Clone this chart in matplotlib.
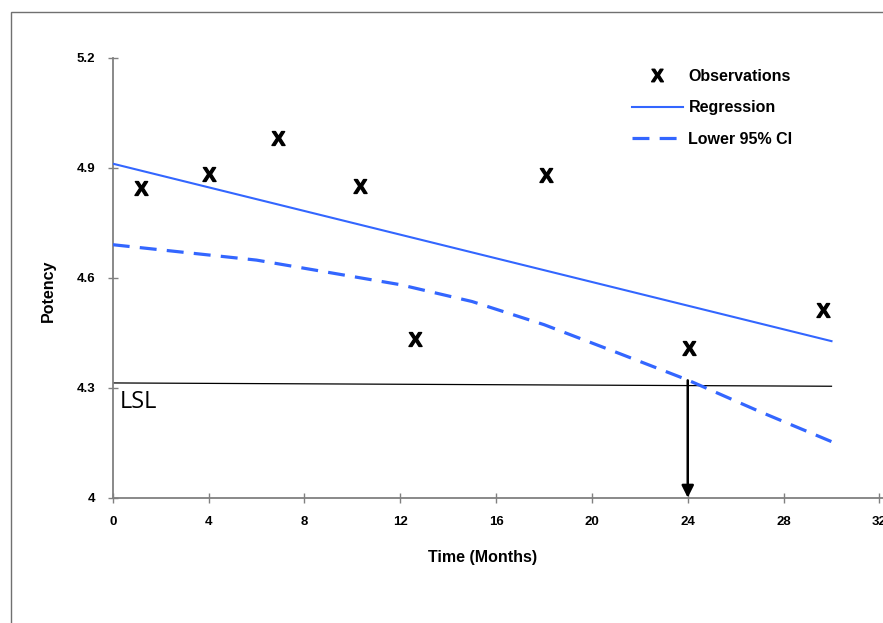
import matplotlib
matplotlib.use("Agg")
import matplotlib.pyplot as plt
from matplotlib.lines import Line2D
from matplotlib.patches import Rectangle

plt.rcParams['font.family'] = ['Liberation Sans', 'DejaVu Sans']
plt.rcParams['mathtext.fontset'] = 'custom'
plt.rcParams['mathtext.bf'] = 'Liberation Sans:bold'
plt.rcParams['mathtext.rm'] = 'Liberation Sans'

# ---- data ----
obs_x = [1.16, 4.0, 6.9, 10.3, 12.6, 18.1, 24.05, 29.65]
obs_y = [4.845, 4.884, 4.980, 4.850, 4.432, 4.880, 4.407, 4.511]

reg_x = [0, 30]
reg_y = [4.911, 4.427]

ci_x = [0, 6, 12, 15, 18, 21, 24, 27, 30]
ci_y = [4.690, 4.648, 4.581, 4.535, 4.472, 4.397, 4.321, 4.235, 4.153]

lsl_x = [0, 30]
lsl_y = [4.313, 4.304]

shelf_life = 24
arrow_top = 4.32

x_ticks = [0, 4, 8, 12, 16, 20, 24, 28, 32]
y_ticks = [4.0, 4.3, 4.6, 4.9, 5.2]
y_tick_labels = ['4', '4.3', '4.6', '4.9', '5.2']

blue = '#3366ff'
grey = '#808080'

fig = plt.figure(figsize=(8.83, 6.23), dpi=100)
fig.patch.set_facecolor('white')
ax = fig.add_axes([0.1277, 0.2011, 1.0 - 0.1277, 0.9074 - 0.2011])

# outer frame (clipped by figure edges at right/bottom)
fig.patches.append(Rectangle((11 / 883, -0.2), 2.0, 1.2 - 12 / 623,
                             transform=fig.transFigure, fill=False,
                             edgecolor='#707070', lw=1.0))

ax.plot(reg_x, reg_y, color=blue, lw=1.5, label='Regression', zorder=3)
ax.plot(ci_x, ci_y, color=blue, lw=2.3, dashes=(5.3, 3.2), label='Lower 95% CI', zorder=3)
ax.plot(lsl_x, lsl_y, color='black', lw=0.9, zorder=2)
ax.plot(obs_x, obs_y, linestyle='none', marker=r'$\mathbf{X}$', markersize=10,
        color='black', label='Observations', zorder=4)

ax.text(0.3, lsl_y[0] - 0.02, 'LSL', fontsize=17, family=['Open Sans', 'DejaVu Sans'],
        ha='left', va='top', color='black')

ax.annotate('', xy=(shelf_life, 4.0), xytext=(shelf_life, arrow_top),
            arrowprops=dict(arrowstyle='-|>,head_length=0.4,head_width=0.2',
                            color='black', lw=1.8, mutation_scale=18,
                            shrinkA=0, shrinkB=0), zorder=5)

ax.set_xlim(0, 32.15)
ax.set_ylim(4.0, 5.2)
ax.set_xticks(x_ticks)
ax.set_xticklabels([str(t) for t in x_ticks])
ax.set_yticks(y_ticks)
ax.set_yticklabels(y_tick_labels)

for s in ['top', 'right']:
    ax.spines[s].set_visible(False)
for s in ['left', 'bottom']:
    ax.spines[s].set_color(grey)
    ax.spines[s].set_linewidth(1.3)
ax.tick_params(direction='inout', length=7, width=1.0, color=grey,
               labelsize=9.5)
ax.tick_params(axis='x', pad=9.5)
ax.tick_params(axis='y', pad=9)
for lab in ax.get_xticklabels() + ax.get_yticklabels():
    lab.set_fontweight('bold')

ax.set_xlabel('Time (Months)', fontsize=11.5, fontweight='bold')
ax.set_ylabel('Potency', fontsize=11.5, fontweight='bold')
ax.xaxis.set_label_coords(0.4807, -0.118)
ax.yaxis.set_label_coords(-0.0745, 0.47)

handles = [
    Line2D([], [], linestyle='none', marker=r'$\mathbf{X}$', markersize=9, color='black'),
    Line2D([], [], color=blue, lw=1.5),
    Line2D([], [], color=blue, lw=2.3, dashes=(5.3, 3.2)),
]
labels = ['Observations', 'Regression', 'Lower 95% CI']
leg = ax.legend(handles, labels, loc='upper left',
                bbox_to_anchor=(631.7 / 883, 1 - 69 / 623),
                bbox_transform=fig.transFigure, frameon=False,
                prop={'size': 11.5, 'weight': 'bold'}, handlelength=3.2,
                handletextpad=0.35, labelspacing=1.03, borderpad=0,
                borderaxespad=0, numpoints=1)

fig.savefig('out.png', dpi=100, facecolor='white')
